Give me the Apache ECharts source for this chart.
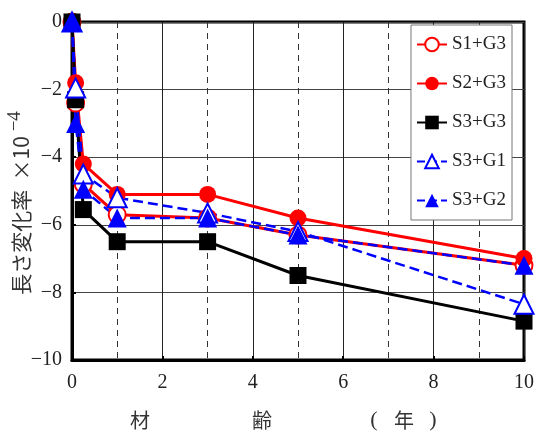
<!DOCTYPE html>
<html>
<head>
<meta charset="utf-8">
<script src="https://cdn.jsdelivr.net/npm/echarts@6/dist/echarts.min.js"></script>
<style>
  html, body { margin: 0; padding: 0; background: #fff; }
  #chart { width: 537px; height: 437px; }
</style>
</head>
<body>
<div id="chart"></div>
<script>
// 材齢 (年)
const ages = [0, 0.08, 0.25, 1, 3, 5, 10];

// 長さ変化率 ×10^-4
const s1g3 = [0, -2.4, -4.8, -5.7, -5.8, -6.3, -7.2];
const s2g3 = [0, -1.8, -4.2, -5.1, -5.1, -5.8, -7.0];
const s3g3 = [0, -2.3, -5.55, -6.5, -6.5, -7.5, -8.85];
const s3g1 = [0, -1.95, -4.5, -5.2, -5.65, -6.2, -8.35];
const s3g2 = [0, -3.0, -4.95, -5.8, -5.8, -6.3, -7.2];

const seriesNames = ["S1+G3", "S2+G3", "S3+G3", "S3+G1", "S3+G2"];

const serif = "Liberation Serif";
const cjk = "Noto Sans CJK JP";

const pairs = (ys) => ages.map((x, i) => [x, ys[i]]);

function makeSeries(name, ys, color, symbol, lineType) {
  const hollow = symbol.startsWith("empty");
  return {
    name,
    type: "line",
    data: pairs(ys),
    symbol,
    symbolSize: symbol.includes("riangle") ? 19 : 17,
    showAllSymbol: true,
    lineStyle: { color, width: lineType === "dashed" ? 2.5 : 3, type: lineType },
    itemStyle: {
      color,
      borderColor: color,
      borderWidth: hollow ? 3.5 : 0,
    },
    emphasis: { disabled: true },
    animation: false,
  };
}

const chart = echarts.init(document.getElementById("chart"));
chart.setOption({
  backgroundColor: "#fff",
  grid: {
    left: 72,
    right: 10,
    top: 22,
    bottom: 77,
    show: true,
    borderColor: "#000",
    borderWidth: 3,
  },
  legend: {
    data: seriesNames,
    orient: "vertical",
    right: 25,
    top: 25,
    itemWidth: 30,
    itemHeight: 17,
    itemGap: 20,
    padding: [10, 6, 10, 5],
    backgroundColor: "#fff",
    borderColor: "#777",
    borderWidth: 1,
    borderRadius: 0,
    textStyle: { fontFamily: serif, fontSize: 19, color: "#222" },
  },
  xAxis: {
    type: "value",
    min: 0,
    max: 10,
    interval: 2,
    axisLine: { show: true, onZero: false, lineStyle: { color: "#000", width: 3 } },
    axisTick: { show: true, inside: true, length: 4, lineStyle: { color: "#000", width: 2 } },
    axisLabel: { fontFamily: serif, fontSize: 20, color: "#222", margin: 13 },
    splitLine: { show: true, lineStyle: { color: "#222", width: 1 } },
    minorTick: { show: false, splitNumber: 2 },
    minorSplitLine: { show: true, lineStyle: { color: "#333", width: 1, type: [6, 5] } },
  },
  yAxis: {
    type: "value",
    min: -10,
    max: 0,
    interval: 2,
    axisLine: { show: true, onZero: false, lineStyle: { color: "#000", width: 3 } },
    axisTick: { show: true, inside: true, length: 4, lineStyle: { color: "#000", width: 2 } },
    axisLabel: {
      fontFamily: serif,
      fontSize: 20,
      color: "#222",
      margin: 10,
      formatter: (v) => String(v).replace("-", "\u2212"),
    },
    splitLine: { show: true, lineStyle: { color: "#444", width: 1 } },
  },
  graphic: [
    {
      type: "text",
      x: 21,
      y: 203,
      rotation: Math.PI / 2,
      style: {
        text: "長さ変化率  ×10{sup| \u22124}",
        fontFamily: cjk,
        fontSize: 21,
        fill: "#333",
        align: "center",
        verticalAlign: "middle",
        rich: {
          sup: { fontFamily: serif, fontSize: 19, fill: "#333", padding: [0, 0, 12, 0] },
        },
      },
    },
    { type: "text", x: 140, y: 420, style: { text: "材", fontFamily: cjk, fontSize: 20, fill: "#333", align: "center", verticalAlign: "middle" } },
    { type: "text", x: 262, y: 420, style: { text: "齢", fontFamily: cjk, fontSize: 20, fill: "#333", align: "center", verticalAlign: "middle" } },
    { type: "text", x: 374, y: 420, style: { text: "(", fontFamily: serif, fontSize: 22, fill: "#333", align: "center", verticalAlign: "middle" } },
    { type: "text", x: 404, y: 420, style: { text: "年", fontFamily: cjk, fontSize: 20, fill: "#333", align: "center", verticalAlign: "middle" } },
    { type: "text", x: 433, y: 420, style: { text: ")", fontFamily: serif, fontSize: 22, fill: "#333", align: "center", verticalAlign: "middle" } },
  ],
  series: [
    makeSeries("S1+G3", s1g3, "#ff0000", "emptyCircle", "solid"),
    makeSeries("S2+G3", s2g3, "#ff0000", "circle", "solid"),
    makeSeries("S3+G3", s3g3, "#000000", "rect", "solid"),
    makeSeries("S3+G1", s3g1, "#0000ff", "emptyTriangle", "dashed"),
    makeSeries("S3+G2", s3g2, "#0000ff", "triangle", "dashed"),
  ],
});
</script>
</body>
</html>
